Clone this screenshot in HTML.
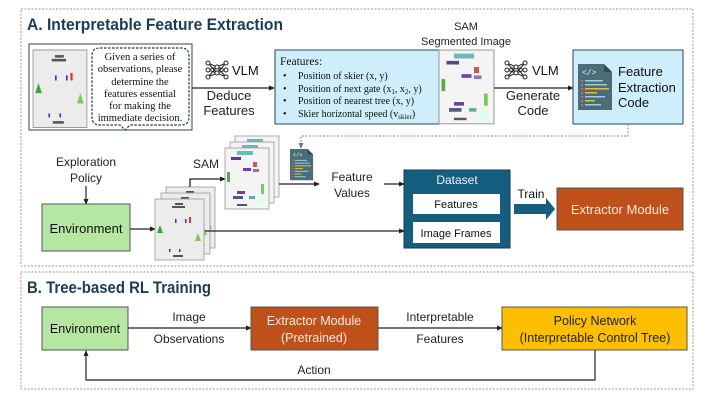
<!DOCTYPE html>
<html><head><meta charset="utf-8"><style>
html,body{margin:0;padding:0;background:#fff;}
svg{display:block;font-family:"Liberation Sans",sans-serif;}
.ser{font-family:"Liberation Serif",serif;}
</style></head><body>
<svg width="714" height="402" viewBox="0 0 714 402" xmlns="http://www.w3.org/2000/svg">
<defs>
<marker id="ar" markerWidth="6" markerHeight="6" refX="5" refY="3" orient="auto" markerUnits="userSpaceOnUse"><path d="M0,0.5 L6,3 L0,5.5 z" fill="#222"/></marker>
<marker id="arg" markerWidth="6" markerHeight="6" refX="5" refY="3" orient="auto" markerUnits="userSpaceOnUse"><path d="M0,0.5 L6,3 L0,5.5 z" fill="#777"/></marker>
<g id="game">
<rect x="0" y="0" width="49" height="61" fill="#ececec" stroke="#999" stroke-width="0.8"/>
<rect x="20" y="4" width="8" height="2" fill="#555"/><rect x="17" y="7" width="13" height="2" fill="#555"/>
<rect x="34" y="18" width="2" height="6" fill="#d33"/><rect x="20" y="20" width="1.5" height="4" fill="#33c"/><rect x="30" y="20" width="1.5" height="4" fill="#33c"/>
<path d="M2,34 l3,-8 l3,8z" fill="#3a3"/><path d="M40,42 l3,-8 l3,8z" fill="#7c5"/>
<rect x="14" y="50" width="1.5" height="3" fill="#33c"/><rect x="24" y="50" width="1.5" height="3" fill="#33c"/>
<rect x="18" y="56" width="10" height="2" fill="#555"/>
</g>
<g id="sam">
<rect x="0" y="0" width="44" height="61" fill="#f4f4f4" stroke="#999" stroke-width="0.8"/>
<rect x="12" y="3" width="16" height="4" fill="#6bb"/><rect x="6" y="9" width="10" height="3" fill="#548"/>
<rect x="28" y="14" width="4" height="5" fill="#c55"/><rect x="18" y="20" width="8" height="3" fill="#64a"/><rect x="28" y="21" width="6" height="3" fill="#87b"/>
<rect x="2" y="24" width="3" height="10" fill="#5a5"/><rect x="36" y="36" width="3" height="10" fill="#7c5"/>
<rect x="12" y="43" width="8" height="3" fill="#649"/><rect x="8" y="48" width="10" height="3" fill="#558"/>
<rect x="24" y="48" width="6" height="3" fill="#6aa"/><rect x="30" y="50" width="10" height="8" fill="#dfe"/>
<rect x="12" y="56" width="10" height="2" fill="#557"/>
</g>
<g id="code">
<path d="M0,0 H26 L34,8 V46 H0 Z" fill="#4b6d7a"/><path d="M26,0 V8 H34 Z" fill="#2f4d58"/>
<text x="4" y="11" font-size="8" fill="#dfe" font-family="Liberation Mono">&lt;/&gt;</text>
<rect x="3" y="16" width="2" height="1.5" fill="#e66"/><rect x="7" y="16" width="18" height="1.5" fill="#9cd"/>
<rect x="3" y="20" width="2" height="1.5" fill="#e66"/><rect x="7" y="20" width="22" height="1.5" fill="#9cd"/>
<rect x="3" y="24" width="2" height="1.5" fill="#e66"/><rect x="7" y="24" width="24" height="1.5" fill="#eb3"/>
<rect x="3" y="28" width="2" height="1.5" fill="#e66"/><rect x="7" y="28" width="12" height="1.5" fill="#eb3"/>
<rect x="3" y="32" width="2" height="1.5" fill="#e66"/><rect x="7" y="32" width="20" height="1.5" fill="#9cd"/>
<rect x="3" y="36" width="2" height="1.5" fill="#e66"/><rect x="7" y="36" width="10" height="1.5" fill="#eb3"/>
<rect x="3" y="40" width="2" height="1.5" fill="#e66"/><rect x="7" y="40" width="16" height="1.5" fill="#9cd"/>
</g>
<g id="nn" stroke="#222" stroke-width="1" fill="#fff">
<path d="M2,3 L11,7 L20,3 M2,10 L11,7 L20,10 M2,10 L11,13 L20,10 M2,17 L11,13 L20,17 M2,3 L11,13 M20,3 L11,13 M2,17 L11,7 M20,17 L11,7" fill="none"/>
<circle cx="2" cy="3" r="2"/><circle cx="2" cy="10" r="2"/><circle cx="2" cy="17" r="2"/>
<circle cx="11" cy="7" r="2"/><circle cx="11" cy="13" r="2"/>
<circle cx="20" cy="3" r="2"/><circle cx="20" cy="10" r="2"/><circle cx="20" cy="17" r="2"/>
</g>
</defs>

<!-- Panel A -->
<rect x="21" y="9" width="672" height="257" fill="none" stroke="#999" stroke-dasharray="2,1.5" stroke-width="1"/>
<text x="27" y="30" font-size="17" font-weight="bold" fill="#1b3d55" textLength="256" lengthAdjust="spacingAndGlyphs">A. Interpretable Feature Extraction</text>

<rect x="29" y="44" width="163" height="86" fill="#fff" stroke="#2a4658" stroke-width="1"/>
<use href="#game" transform="translate(33,50) scale(1.1,1.27)"/>
<path d="M100,48 H181 Q189,48 189,56 V117 Q189,125 181,125 H130 L125,130 L120,125 H100 Q92,125 92,117 V56 Q92,48 100,48 Z" fill="#fff" stroke="#1f3b55" stroke-width="1.2" stroke-dasharray="2.5,1.5"/>
<g class="ser" font-size="10.5" fill="#111" text-anchor="middle">
<text x="140" y="60">Given a series of</text><text x="140" y="72">observations, please</text>
<text x="140" y="85">determine the</text><text x="140" y="97">features essential</text>
<text x="140" y="109">for making the</text><text x="140" y="121">immediate decision.</text>
</g>

<use href="#nn" transform="translate(206,60)"/>
<text x="232" y="75" font-size="13" fill="#111">VLM</text>
<text x="229" y="100" font-size="13" fill="#222" text-anchor="middle">Deduce</text>
<text x="229" y="115" font-size="13" fill="#222" text-anchor="middle">Features</text>
<line x1="192" y1="88" x2="274" y2="88" stroke="#222" stroke-width="1.3" marker-end="url(#ar)"/>

<rect x="275" y="50" width="164" height="74" fill="#cdeefa" stroke="#2a4658" stroke-width="1"/>
<g class="ser" font-size="10" fill="#111">
<text x="280" y="65" font-size="11.5">Features:</text>
<text x="283" y="79">•</text><text x="298" y="79">Position of skier (x, y)</text>
<text x="283" y="92">•</text><text x="298" y="92">Position of next gate (x<tspan font-size="7" dy="2">1</tspan><tspan dy="-2">, x</tspan><tspan font-size="7" dy="2">2</tspan><tspan dy="-2">, y)</tspan></text>
<text x="283" y="104">•</text><text x="298" y="104">Position of nearest tree (x, y)</text>
<text x="283" y="117">•</text><text x="298" y="117">Skier horizontal speed (v<tspan font-size="7" dy="2">skier</tspan><tspan dy="-2">)</tspan></text>
</g>
<use href="#sam" transform="translate(439,50) scale(1.25,1.21)"/>
<text x="466" y="30" font-size="11" fill="#222" text-anchor="middle">SAM</text>
<text x="466" y="45" font-size="11" fill="#222" text-anchor="middle">Segmented Image</text>

<use href="#nn" transform="translate(505,60)"/>
<text x="532" y="75" font-size="13" fill="#111">VLM</text>
<text x="533" y="100" font-size="13" fill="#222" text-anchor="middle">Generate</text>
<text x="533" y="115" font-size="13" fill="#222" text-anchor="middle">Code</text>
<line x1="494" y1="88" x2="573" y2="88" stroke="#222" stroke-width="1.3" marker-end="url(#ar)"/>

<rect x="573" y="50" width="110" height="74" fill="#cdeefa" stroke="#2a4658" stroke-width="1"/>
<use href="#code" transform="translate(578,64)"/>
<text x="618" y="76" font-size="13" fill="#111">Feature</text>
<text x="618" y="92" font-size="13" fill="#111">Extraction</text>
<text x="618" y="107" font-size="13" fill="#111">Code</text>

<path d="M628,124 V136 H301 V148" fill="none" stroke="#888" stroke-width="1" stroke-dasharray="2,1.5" marker-end="url(#arg)"/>

<text x="86" y="166" font-size="12" fill="#222" text-anchor="middle">Exploration</text>
<text x="86" y="182" font-size="12" fill="#222" text-anchor="middle">Policy</text>
<line x1="86" y1="186" x2="86" y2="204" stroke="#222" stroke-width="1.2" marker-end="url(#ar)"/>
<rect x="42" y="204" width="88" height="47" fill="#b5e6a2" stroke="#555" stroke-width="1"/>
<text x="86" y="233" font-size="13" fill="#111" text-anchor="middle">Environment</text>
<line x1="130" y1="229" x2="155" y2="229" stroke="#222" stroke-width="1.2" marker-end="url(#ar)"/>

<use href="#game" transform="translate(166,187)"/>
<use href="#game" transform="translate(161,193)"/>
<use href="#game" transform="translate(155,199)"/>
<path d="M190,187 V179 H225" fill="none" stroke="#222" stroke-width="1.3" marker-end="url(#ar)"/>
<text x="193" y="168" font-size="12" fill="#222">SAM</text>
<use href="#sam" transform="translate(235,136)"/>
<use href="#sam" transform="translate(230,142)"/>
<use href="#sam" transform="translate(225,148)"/>
<use href="#code" transform="translate(290,149) scale(0.68)"/>
<line x1="279" y1="184" x2="319" y2="184" stroke="#222" stroke-width="1.3" marker-end="url(#ar)"/>
<text x="352" y="181" font-size="12" fill="#222" text-anchor="middle">Feature</text>
<text x="352" y="197" font-size="12" fill="#222" text-anchor="middle">Values</text>
<line x1="384" y1="184" x2="404" y2="184" stroke="#222" stroke-width="1.2" marker-end="url(#ar)"/>
<line x1="205" y1="231" x2="404" y2="231" stroke="#222" stroke-width="1.2" marker-end="url(#ar)"/>

<rect x="404" y="170" width="106" height="78" fill="#155e80" stroke="#0e3e56" stroke-width="1"/>
<text x="457" y="184" font-size="12" fill="#e8f4fa" text-anchor="middle">Dataset</text>
<rect x="413" y="194" width="87" height="20" fill="#fff"/>
<text x="456" y="208" font-size="11" fill="#111" text-anchor="middle">Features</text>
<rect x="413" y="222" width="87" height="21" fill="#fff"/>
<text x="456" y="237" font-size="11" fill="#111" text-anchor="middle">Image Frames</text>
<text x="531" y="198" font-size="12" fill="#111" text-anchor="middle">Train</text>
<path d="M514,204 H546 V198 L555,209 L546,220 V214 H514 Z" fill="#155e80"/>
<rect x="557" y="188" width="126" height="42" fill="#c0501a" stroke="#555" stroke-width="1"/>
<text x="620" y="214" font-size="13" fill="#fbe9df" text-anchor="middle">Extractor Module</text>

<!-- Panel B -->
<rect x="21" y="272" width="672" height="117" fill="none" stroke="#999" stroke-dasharray="2,1.5" stroke-width="1"/>
<text x="27" y="293" font-size="17" font-weight="bold" fill="#1b3d55" textLength="184" lengthAdjust="spacingAndGlyphs">B. Tree-based RL Training</text>
<rect x="42" y="307" width="86" height="43" fill="#b5e6a2" stroke="#555" stroke-width="1"/>
<text x="85" y="333" font-size="12.5" fill="#111" text-anchor="middle">Environment</text>
<line x1="128" y1="328" x2="251" y2="328" stroke="#222" stroke-width="1.2" marker-end="url(#ar)"/>
<text x="189" y="321" font-size="12" fill="#222" text-anchor="middle">Image</text>
<text x="189" y="343" font-size="12" fill="#222" text-anchor="middle">Observations</text>
<rect x="251" y="307" width="127" height="43" fill="#c0501a" stroke="#555" stroke-width="1"/>
<text x="314" y="325" font-size="12.5" fill="#fbe9df" text-anchor="middle">Extractor Module</text>
<text x="314" y="342" font-size="12.5" fill="#fbe9df" text-anchor="middle">(Pretrained)</text>
<line x1="378" y1="328" x2="502" y2="328" stroke="#222" stroke-width="1.2" marker-end="url(#ar)"/>
<text x="440" y="321" font-size="12" fill="#222" text-anchor="middle">Interpretable</text>
<text x="440" y="343" font-size="12" fill="#222" text-anchor="middle">Features</text>
<rect x="502" y="307" width="185" height="43" fill="#fdbf00" stroke="#555" stroke-width="1"/>
<text x="595" y="325" font-size="12.5" fill="#222" text-anchor="middle">Policy Network</text>
<text x="595" y="342" font-size="12.5" fill="#222" text-anchor="middle">(Interpretable Control Tree)</text>
<path d="M595,350 V380 H86 V351" fill="none" stroke="#222" stroke-width="1.2" marker-end="url(#ar)"/>
<text x="314" y="374" font-size="12" fill="#222" text-anchor="middle">Action</text>
</svg>
</body></html>
